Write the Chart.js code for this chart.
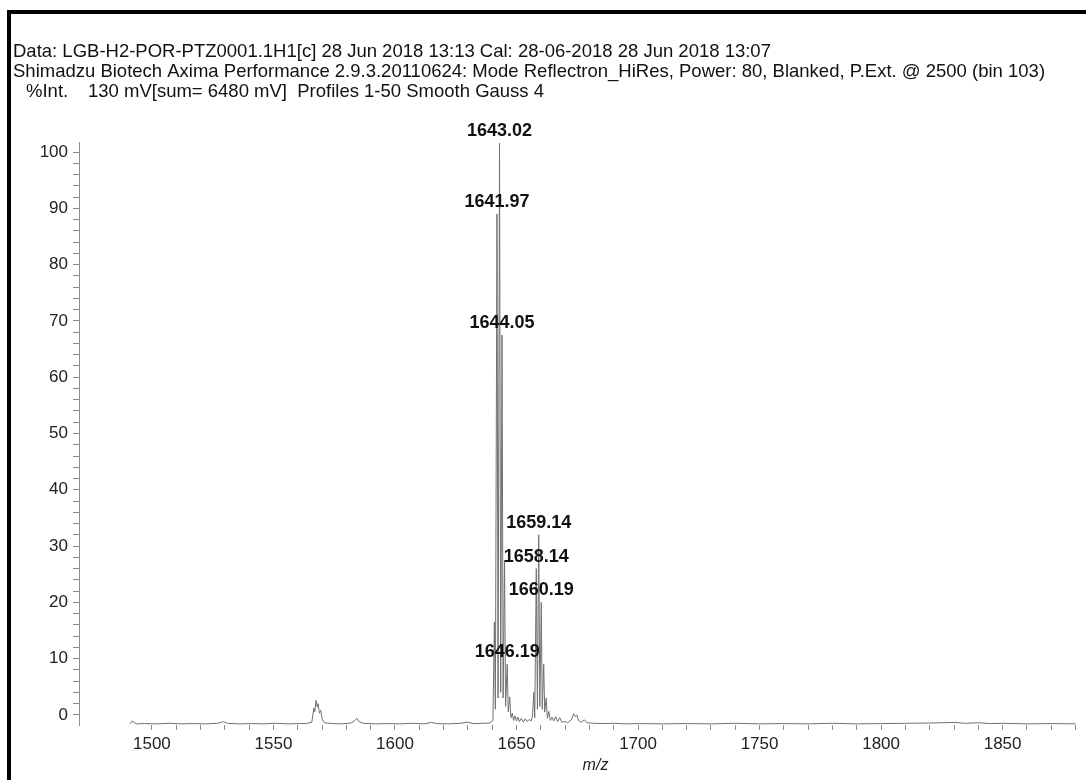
<!DOCTYPE html>
<html>
<head>
<meta charset="utf-8">
<script src="https://cdn.jsdelivr.net/npm/chart.js@4.4.1/dist/chart.umd.min.js"></script>
<style>
  html, body { margin: 0; padding: 0; background: #fff; overflow: hidden; }
  #wrap { position: relative; width: 1086px; height: 780px; overflow: hidden; background: #fff; }
  #frame { position: absolute; left: 7px; top: 10px; width: 1200px; height: 900px; border-left: 4px solid #000; border-top: 4px solid #000; pointer-events: none; }
  canvas { position: absolute; left: 0; top: 0; }
</style>
</head>
<body>
<div id="wrap">
  <canvas id="espectro" width="1122" height="780"></canvas>
  <div id="frame"></div>
</div>
<script>
// textos do cabeçalho
const linhaDados = 'Data: LGB-H2-POR-PTZ0001.1H1[c] 28 Jun 2018 13:13 Cal: 28-06-2018 28 Jun 2018 13:07';
const linhaInstrumento = 'Shimadzu Biotech Axima Performance 2.9.3.20110624: Mode Reflectron_HiRes, Power: 80, Blanked, P.Ext. @ 2500 (bin 103)';
const linhaEixo = '%Int.';
const linhaPerfil = '130 mV[sum= 6480 mV]  Profiles 1-50 Smooth Gauss 4';

// espectro (m/z e %Int)
const mzEspectro = [
  1491.0, 1491.8, 1492.6, 1493.5, 1497, 1502, 1507, 1512, 1517, 1522, 1527, 1529.5, 1531,
  1536, 1541, 1546, 1551, 1556, 1561, 1564, 1565.8, 1566.6, 1567.0, 1567.5, 1568.0, 1568.4,
  1568.9, 1569.5, 1570.1, 1571, 1574, 1578, 1582, 1583.5, 1584.3, 1585.2, 1587, 1592, 1597,
  1602, 1607, 1612, 1615, 1617, 1622, 1627, 1630, 1632, 1636, 1639, 1640.3, 1640.9, 1641.3,
  1641.97, 1642.4, 1643.02, 1643.5, 1644.05, 1644.5, 1645.08, 1645.5, 1646.19, 1646.6, 1647.2,
  1647.7, 1648.3, 1648.8, 1649.4, 1650, 1650.6, 1651.2, 1652, 1652.8, 1653.6, 1654.4, 1655.2,
  1656, 1656.6, 1657.1, 1657.5, 1658.14, 1658.6, 1659.14, 1659.6, 1660.19, 1660.6, 1661.2,
  1661.6, 1662.2, 1662.7, 1663.3, 1663.9, 1664.6, 1665.3, 1666.1, 1666.9, 1667.8, 1668.6,
  1670, 1671, 1672.5, 1673.5, 1674.2, 1674.8, 1675.5, 1676.5, 1678, 1679, 1682, 1686, 1690,
  1695, 1700, 1710, 1720, 1730, 1740, 1750, 1760, 1770, 1780, 1790, 1800, 1810, 1820, 1830,
  1835, 1840, 1845, 1850, 1860, 1870, 1880, 1895
];
const intEspectro = [
  -1.6, -1.1, -1.3, -1.6, -1.55, -1.6, -1.5, -1.6, -1.55, -1.6, -1.5, -1.2, -1.5,
  -1.6, -1.55, -1.6, -1.5, -1.6, -1.55, -1.5, -1.3, 1.2, 0.5, 2.6, 1.4, 2.0,
  0.3, 0.8, -0.9, -1.4, -1.55, -1.6, -1.45, -1.0, -0.6, -1.2, -1.5, -1.6, -1.55,
  -1.6, -1.5, -1.6, -1.35, -1.55, -1.6, -1.5, -1.3, -1.55, -1.5, -1.45, -1.0, 16.5, 1.0,
  89, 3, 101.6, 4, 67.5, 3, 27.5, 1.5, 9, 0.5, 3.2,
  -0.5, 0.3, -1.0, -0.2, -1.1, -0.4, -1.2, -0.6, -1.3, -0.7, -1.2, -0.8,
  -1.1, -0.2, 4, -0.5, 26, 1, 32, 1.5, 20, 1, 9,
  0.5, 3, -0.6, 0.6, -1.0, -0.4, -1.1, -0.3, -1.2, -0.5, -1.3,
  -1.2, -1.4, -0.9, 0.2, -0.3, 0.0, -1.0, -1.3, -0.9, -1.4, -1.5, -1.55, -1.5,
  -1.6, -1.55, -1.6, -1.55, -1.6, -1.5, -1.6, -1.55, -1.6, -1.5, -1.6, -1.55, -1.5, -1.45,
  -1.35, -1.5, -1.4, -1.55, -1.5, -1.6, -1.55, -1.6
];

// picos rotulados
const picosMz = [1643.02, 1641.97, 1644.05, 1659.14, 1658.14, 1660.19, 1646.19];
const picosInt = [101.6, 89, 67.5, 32, 26, 20, 9];

// marcas dos eixos
const ticksX = [1500, 1510, 1520, 1530, 1540, 1550, 1560, 1570, 1580, 1590, 1600, 1610, 1620, 1630, 1640,
  1650, 1660, 1670, 1680, 1690, 1700, 1710, 1720, 1730, 1740, 1750, 1760, 1770, 1780, 1790, 1800,
  1810, 1820, 1830, 1840, 1850, 1860, 1870, 1880, 1890];
const ticksY = [0, 2, 4, 6, 8, 10, 12, 14, 16, 18, 20, 22, 24, 26, 28, 30, 32, 34, 36, 38, 40, 42, 44, 46,
  48, 50, 52, 54, 56, 58, 60, 62, 64, 66, 68, 70, 72, 74, 76, 78, 80, 82, 84, 86, 88, 90, 92, 94, 96, 98, 100];

const fonte = "'Liberation Sans', Arial, sans-serif";
const pontos = mzEspectro.map((mz, i) => ({ x: mz, y: intEspectro[i] }));

// desenha o cabeçalho de texto acima do gráfico
const cabecalhoPlugin = {
  id: 'cabecalho',
  beforeDraw(chart) {
    const c = chart.ctx;
    c.save();
    c.fillStyle = '#111';
    c.textBaseline = 'alphabetic';
    c.textAlign = 'left';
    c.font = '18.5px ' + fonte;
    c.fillText(linhaDados, 13, 57);
    c.fillText(linhaInstrumento, 13, 77, 1060);
    c.fillText(linhaEixo, 26, 97);
    c.fillText(linhaPerfil, 88, 97);
    c.restore();
  }
};

// rótulos em negrito sobre os picos
const rotulosPlugin = {
  id: 'rotulos',
  afterDatasetsDraw(chart) {
    const c = chart.ctx;
    const sx = chart.scales.x;
    const sy = chart.scales.y;
    c.save();
    c.fillStyle = '#111';
    c.font = 'bold 18px ' + fonte;
    c.textAlign = 'center';
    c.textBaseline = 'bottom';
    picosMz.forEach((mz, i) => {
      c.fillText(mz.toFixed(2), sx.getPixelForValue(mz), sy.getPixelForValue(picosInt[i]) - 3);
    });
    c.restore();
  }
};

const ctx = document.getElementById('espectro').getContext('2d');
new Chart(ctx, {
  type: 'scatter',
  data: {
    datasets: [{
      data: pontos,
      showLine: true,
      borderColor: '#707070',
      borderWidth: 1,
      pointRadius: 0,
      tension: 0
    }]
  },
  options: {
    responsive: false,
    animation: false,
    devicePixelRatio: 1,
    layout: { padding: { top: 142, right: 10, bottom: 0, left: 0 } },
    plugins: { legend: { display: false }, tooltip: { enabled: false } },
    scales: {
      x: {
        type: 'linear',
        min: 1470,
        max: 1895,
        afterFit: s => { s.height = 55; },
        afterBuildTicks: s => { s.ticks = ticksX.map(v => ({ value: v })); },
        border: { display: false },
        grid: { drawOnChartArea: false, drawTicks: true, tickLength: 5, color: '#8c8c8c' },
        ticks: {
          autoSkip: false,
          maxRotation: 0,
          padding: 4,
          color: '#222',
          font: { family: fonte, size: 17 },
          callback: v => (v % 50 === 0 ? String(v) : '')
        },
        title: {
          display: true,
          text: 'm/z',
          color: '#222',
          font: { family: fonte, size: 16, style: 'italic' },
          padding: { top: 5, bottom: 5 }
        }
      },
      y: {
        min: -1.8,
        max: 101.8,
        afterFit: s => { s.width = 79; },
        afterBuildTicks: s => { s.ticks = ticksY.map(v => ({ value: v })); },
        border: { display: true, color: '#8c8c8c' },
        grid: { drawOnChartArea: false, drawTicks: true, tickLength: 6, color: '#8c8c8c' },
        ticks: {
          autoSkip: false,
          padding: 5,
          color: '#222',
          font: { family: fonte, size: 17 },
          callback: v => (v % 10 === 0 ? String(v) : '')
        }
      }
    }
  },
  plugins: [cabecalhoPlugin, rotulosPlugin]
});
</script>
</body>
</html>
